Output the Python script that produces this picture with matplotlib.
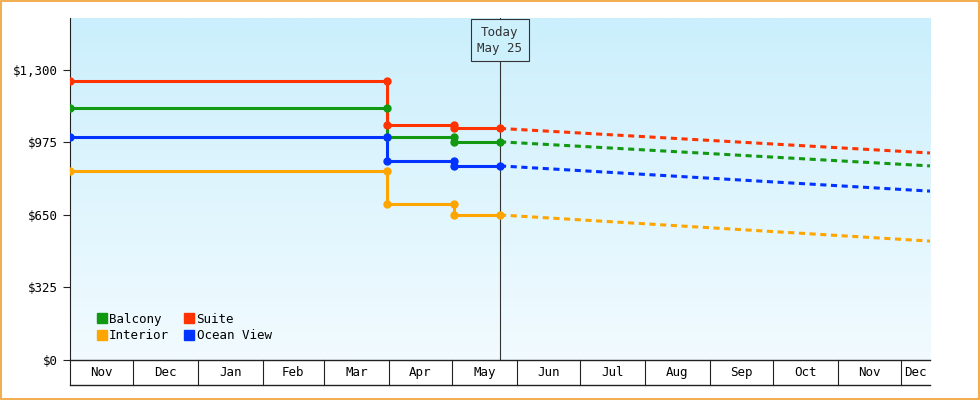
import matplotlib
matplotlib.use("Agg")
import matplotlib.pyplot as plt
import matplotlib.dates as mdates
import numpy as np
import datetime as dt

series = ["Balcony", "Suite", "Interior", "Ocean View"]
colors = ["#119911", "#ff3300", "#ffa500", "#0033ff"]
change_dates = ["2023-11-01", "2024-03-31", "2024-05-02", "2024-05-24"]
hist = {
    "Balcony":    [1130, 1000, 978],
    "Suite":      [1250, 1052, 1038],
    "Interior":   [847, 700, 650],
    "Ocean View": [1000, 892, 870],
}
fc_dates = ["2024-05-24", "2024-12-15"]
forecast = {
    "Balcony":    [978, 870],
    "Suite":      [1038, 928],
    "Interior":   [650, 533],
    "Ocean View": [870, 757],
}
yticks = [0, 325, 650, 975, 1300]
ytick_labels = ["$0", "$325", "$650", "$975", "$1,300"]
months = ["Nov", "Dec", "Jan", "Feb", "Mar", "Apr", "May", "Jun", "Jul", "Aug", "Sep", "Oct", "Nov", "Dec"]
month_starts = ["2023-11-01", "2023-12-01", "2024-01-01", "2024-02-01", "2024-03-01", "2024-04-01",
                "2024-05-01", "2024-06-01", "2024-07-01", "2024-08-01", "2024-09-01", "2024-10-01",
                "2024-11-01", "2024-12-01", "2024-12-15"]

font = "DejaVu Sans Mono"
plt.rcParams["font.family"] = font
fig = plt.figure(figsize=(9.8, 4), dpi=100)
fig.patch.set_facecolor("white")
fig.add_artist(plt.Rectangle((0.001, 0.002), 0.998, 0.996, transform=fig.transFigure,
                             fill=False, edgecolor="#f0a030", lw=1.2))
ax = fig.add_axes([0.0714, 0.1, 0.8776, 0.855])
d = lambda s: mdates.date2num(dt.datetime.strptime(s, "%Y-%m-%d"))
x0, x1 = d(month_starts[0]), d(month_starts[-1])
ymax = 1533
ax.set_xlim(x0, x1)
ax.set_ylim(0, ymax)
grad = np.linspace(0, 1, 256).reshape(-1, 1)
from matplotlib.colors import LinearSegmentedColormap
cm = LinearSegmentedColormap.from_list("g", ["#f2fbff", "#cbeffc"])
ax.imshow(grad, extent=[x0, x1, 0, ymax], origin="lower", aspect="auto", cmap=cm, zorder=0)

cx = [d(s) for s in change_dates]
for name, c in zip(series, colors):
    v = hist[name]
    ax.plot(cx, v + [v[-1]], drawstyle="steps-post", color=c, lw=2.2, zorder=3)
    mx = [cx[0], cx[1], cx[1], cx[2], cx[2], cx[3]]
    my = [v[0], v[0], v[1], v[1], v[2], v[2]]
    ax.plot(mx, my, "o", color=c, ms=5, zorder=4)
    ax.plot([d(s) for s in fc_dates], forecast[name], color=c, lw=2.2, ls=(0, (2, 1.5)), zorder=3)

today = d("2024-05-24")
ax.axvline(today, color="#333333", lw=0.8, zorder=2)
ax.text(today, 1434, "Today\nMay 25", ha="center", va="center", fontsize=9, color="#333333",
        linespacing=1.3, bbox=dict(boxstyle="square,pad=0.5", fc="#cdf0fd", ec="#333333", lw=0.8), zorder=5)

ax.set_yticks(yticks)
ax.set_yticklabels(ytick_labels, fontsize=9)
ax.set_xticks([])
for s in ["top", "right", "bottom"]:
    ax.spines[s].set_visible(False)
ax.spines["left"].set_color("#222222")
ax.tick_params(axis="y", length=5, color="#222222")

ms = [d(s) for s in month_starts]
trans = ax.get_xaxis_transform()
band = -0.073
ax.plot([x0, x1], [0, 0], transform=trans, color="#222222", lw=1, clip_on=False)
ax.plot([x0, x1], [band, band], transform=trans, color="#222222", lw=1, clip_on=False)
for m in ms[:-1]:
    ax.plot([m, m], [0, band], transform=trans, color="#222222", lw=0.8, clip_on=False)
for i, lab in enumerate(months):
    ax.text((ms[i] + ms[i + 1]) / 2, band / 2, lab, transform=trans, ha="center", va="center", fontsize=9)

from matplotlib.lines import Line2D
order = [0, 2, 1, 3]
handles = [Line2D([], [], marker="s", ls="", color=colors[i], ms=7) for i in order]
ax.legend(handles, [series[i] for i in order], loc="lower left", ncol=2, frameon=False, fontsize=9,
          handletextpad=0.0, handlelength=1.2, columnspacing=1.0, labelspacing=0.25,
          bbox_to_anchor=(0.015, 0.02))
fig.savefig("out.png", dpi=100)
